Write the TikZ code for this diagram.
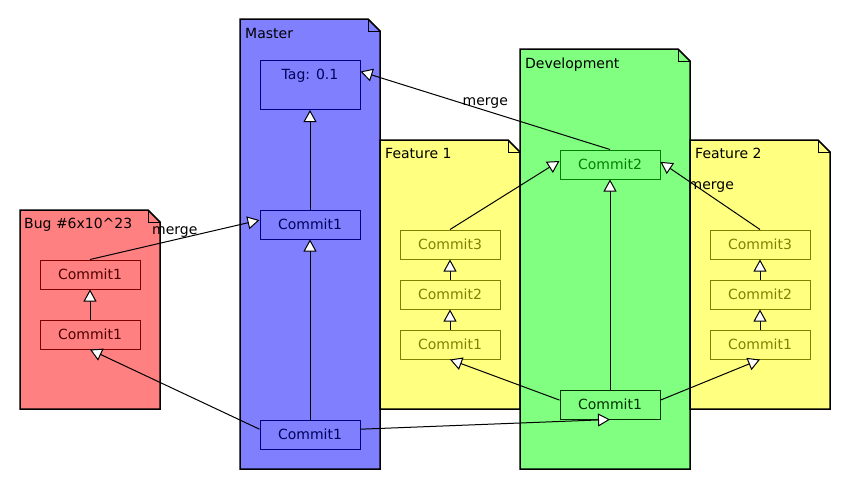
\documentclass[tikz,border=0pt]{standalone}
\usepackage{fontspec}
\setmainfont{DejaVu Sans}
\usetikzlibrary{arrows.meta}

\definecolor{bugred}{HTML}{FF8080}
\definecolor{masterblue}{HTML}{8080FF}
\definecolor{featyellow}{HTML}{FFFF80}
\definecolor{devgreen}{HTML}{80FF80}
\definecolor{bugdark}{HTML}{800000}
\definecolor{masterdark}{HTML}{000080}
\definecolor{featdark}{HTML}{808000}
\definecolor{devdark}{HTML}{008000}
\definecolor{devblack}{HTML}{003000}

\tikzset{
  pkg/.style={draw=black, line width=1.5pt},
  fold/.style={draw=black, line width=1pt},
  pkgname/.style={anchor=base west, inner sep=0pt},
  commit/.style={draw, line width=1pt, minimum width=100pt, minimum height=29pt, inner sep=2pt},
  bugcommit/.style={commit, draw=bugdark, text=bugdark!60!black, fill=bugred},
  mastercommit/.style={commit, draw=masterdark, text=masterdark!70!black, fill=masterblue},
  featcommit/.style={commit, draw=featdark, text=featdark, fill=featyellow},
  devcommit/.style={commit, draw=devdark, text=devdark, fill=devgreen},
  parent/.style={-{Triangle[length=12pt, width=13pt, fill=white]}, line width=1pt},
  merge/.style={pos=0.5, anchor=base, inner sep=0pt, yshift=5pt},
}

\begin{document}
\begin{tikzpicture}[x=1pt, y=-1pt, font=\fontsize{14}{16}\selectfont]
    \useasboundingbox (0,0) rectangle (850,490);

    % Packages (folded top-right corner)
    \draw[pkg, fill=bugred] (20,210) -- (148,210) -- (160,222) -- (160,409) -- (20,409) -- cycle;
    \draw[fold] (148,210) -- (148,222) -- (160,222);
    \draw[pkg, fill=masterblue] (240,19) -- (368,19) -- (380,31) -- (380,469) -- (240,469) -- cycle;
    \draw[fold] (368,19) -- (368,31) -- (380,31);
    \draw[pkg, fill=featyellow] (380,140) -- (508,140) -- (520,152) -- (520,409) -- (380,409) -- cycle;
    \draw[fold] (508,140) -- (508,152) -- (520,152);
    \draw[pkg, fill=devgreen] (520,49) -- (678,49) -- (690,61) -- (690,469) -- (520,469) -- cycle;
    \draw[fold] (678,49) -- (678,61) -- (690,61);
    \draw[pkg, fill=featyellow] (690,140) -- (818,140) -- (830,152) -- (830,409) -- (690,409) -- cycle;
    \draw[fold] (818,140) -- (818,152) -- (830,152);

    % Package names
    \node[pkgname] (bugname) at (24,228) {Bug \#6x10\^{}23};
    \node[pkgname] (mastername) at (245,38) {Master};
    \node[pkgname] (feat1name) at (385,158) {Feature 1};
    \node[pkgname] (devname) at (525,68) {Development};
    \node[pkgname] (feat2name) at (695,158) {Feature 2};

    % Master
    \node[mastercommit, anchor=north, text height=10.5pt, text depth=22.5pt, inner ysep=8pt] (tag) at (310,60) {Tag: 0.1};
    \node[mastercommit] (m1) at (310,224.5) {Commit1};
    \node[mastercommit] (m0) at (310,434.5) {Commit1};

    % Bug
    \node[bugcommit] (b1) at (90,274.5) {Commit1};
    \node[bugcommit] (b0) at (90,334.5) {Commit1};

    % Feature 1
    \node[featcommit] (fa3) at (450,244.5) {Commit3};
    \node[featcommit] (fa2) at (450,294.5) {Commit2};
    \node[featcommit] (fa1) at (450,344.5) {Commit1};

    % Development
    \node[devcommit] (d2) at (610,164.5) {Commit2};
    \node[devcommit, draw=devblack, text=devblack] (d1) at (610,404.5) {Commit1};

    % Feature 2
    \node[featcommit] (fb3) at (760,244.5) {Commit3};
    \node[featcommit] (fb2) at (760,294.5) {Commit2};
    \node[featcommit] (fb1) at (760,344.5) {Commit1};

    % History
    \draw[parent] (m1.north) -- (tag.south);
    \draw[parent] (m0.north) -- (m1.south);
    \draw[parent] (b0.north) -- (b1.south);
    \draw[parent] (m0.174) -- (b0.south);
    \draw[parent] (m0.6) -- (d1.south);
    \draw[parent] (d1.north) -- (d2.south);
    \draw[parent] (d1.175) -- (fa1.south);
    \draw[parent] (d1.5) -- (fb1.south);
    \draw[parent] (fa1.north) -- (fa2.south);
    \draw[parent] (fa2.north) -- (fa3.south);
    \draw[parent] (fb1.north) -- (fb2.south);
    \draw[parent] (fb2.north) -- (fb3.south);

    % Merges
    \draw[parent] (b1.north) -- (m1.175) node[merge] {merge};
    \draw[parent] (d2.north) -- (tag.15) node[merge, yshift=-0.5pt] {merge};
    \draw[parent] (fa3.north) -- (d2.176);
    \draw[parent] (fb3.north) -- (d2.3) node[merge, yshift=1pt, xshift=1pt] {merge};
\end{tikzpicture}
\end{document}
